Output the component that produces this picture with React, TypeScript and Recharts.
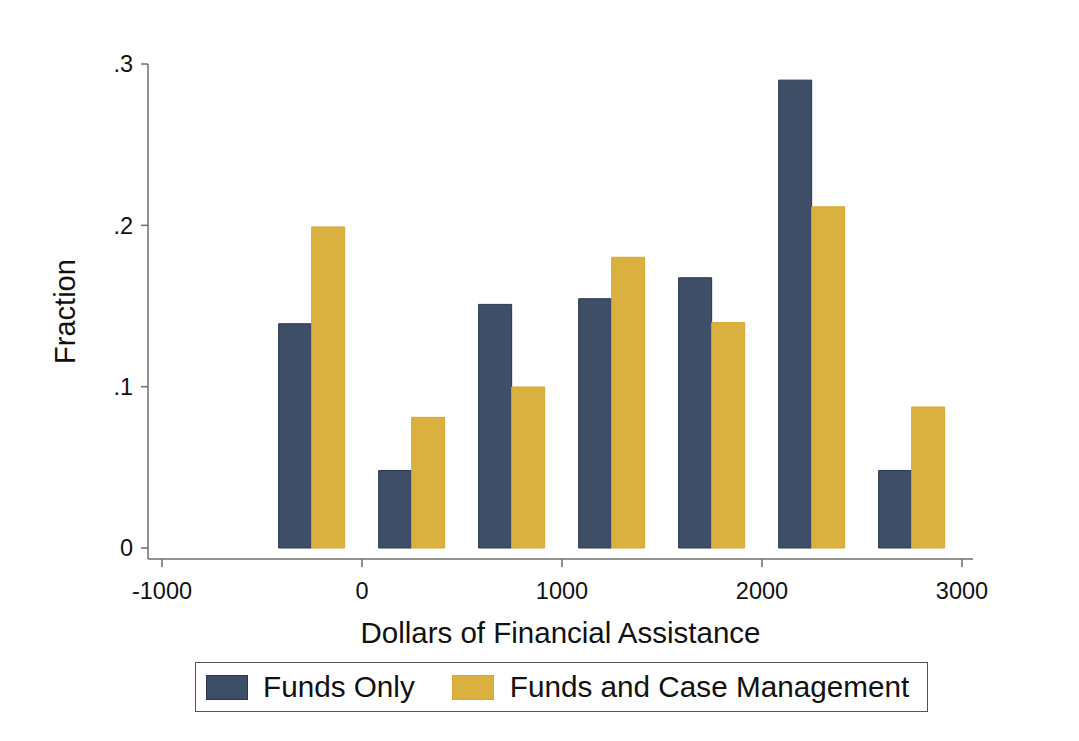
import { BarChart, Bar, XAxis, YAxis, Legend } from "recharts"

const binCenters = [-250, 250, 750, 1250, 1750, 2250, 2750]
const fundsOnly = [0.139, 0.048, 0.151, 0.1545, 0.1675, 0.29, 0.048]
const fundsAndCase = [0.199, 0.081, 0.0998, 0.1802, 0.1397, 0.2115, 0.0874]

const xTicks = [-1000, 0, 1000, 2000, 3000]
const yTicks = [0, 0.1, 0.2, 0.3]

const seriesNames = ["Funds Only", "Funds and Case Management"]
const navy = "#3d4e66"
const gold = "#dab13f"

const data = binCenters.map((x, i) => ({
  x,
  funds: fundsOnly[i],
  fundsCase: fundsAndCase[i],
}))

const font = '"Liberation Sans", Arial, sans-serif'
const axisColor = "#6e6e6e"

const fmtY = (v: number) => (v === 0 ? "0" : String(v).replace(/^0/, ""))

const LegendBox = () => (
  <div
    style={{
      boxSizing: "border-box",
      width: 733,
      height: 50,
      border: "1.5px solid #555",
      background: "#fff",
      display: "flex",
      alignItems: "center",
      paddingLeft: 10,
      fontFamily: font,
      fontSize: 29.7,
      color: "#111",
    }}
  >
    <span style={{ width: 42, height: 25, background: navy, border: "1px solid #26364f", boxSizing: "border-box" }} />
    <span style={{ marginLeft: 15 }}>{seriesNames[0]}</span>
    <span style={{ marginLeft: 37, width: 42, height: 25, background: gold, border: "1px solid #d6a732", boxSizing: "border-box" }} />
    <span style={{ marginLeft: 16 }}>{seriesNames[1]}</span>
  </div>
)

export default function App() {
  return (
    <div style={{ position: "absolute", left: 0, top: 0, width: 1079, height: 741, background: "#fff" }}>
      <BarChart
        width={1079}
        height={741}
        data={data}
        margin={{ top: 64, right: 106, left: 68, bottom: 82 }}
        barCategoryGap="16.67%"
        barGap={0}
      >
        <XAxis
          dataKey="x"
          type="number"
          domain={[-1070, 3055]}
          ticks={xTicks}
          allowDataOverflow
          height={100}
          stroke={axisColor}
          strokeWidth={1.5}
          tickSize={8}
          tickMargin={15}
          tick={{ fill: "#111", fontSize: 23.5, fontFamily: font }}
          tickLine={{ stroke: axisColor, strokeWidth: 1.5 }}
          label={{
            value: "Dollars of Financial Assistance",
            position: "insideBottom",
            offset: 16,
            style: { fill: "#111", fontSize: 29.5, fontFamily: font, textAnchor: "middle" },
          }}
        />
        <YAxis
          type="number"
          domain={[-0.00682, 0.3]}
          ticks={yTicks}
          allowDataOverflow
          width={80}
          stroke={axisColor}
          strokeWidth={1.5}
          tickSize={7}
          tickMargin={8}
          tickFormatter={fmtY}
          tick={{ fill: "#111", fontSize: 23.5, fontFamily: font }}
          tickLine={{ stroke: axisColor, strokeWidth: 1.5 }}
          label={{
            value: "Fraction",
            angle: -90,
            position: "insideLeft",
            offset: 2,
            dx: -5,
            style: { fill: "#111", fontSize: 29, fontFamily: font, textAnchor: "middle" },
          }}
        />
        <Legend
          verticalAlign="middle"
          align="center"
          content={() => <LegendBox />}
          wrapperStyle={{ left: 195, top: 662, width: 733, height: 50 }}
        />
        <Bar dataKey="funds" name={seriesNames[0]} fill={navy} stroke="#26364f" strokeWidth={1} isAnimationActive={false} />
        <Bar dataKey="fundsCase" name={seriesNames[1]} fill={gold} stroke="#d6a732" strokeWidth={1} isAnimationActive={false} />
      </BarChart>
    </div>
  )
}
